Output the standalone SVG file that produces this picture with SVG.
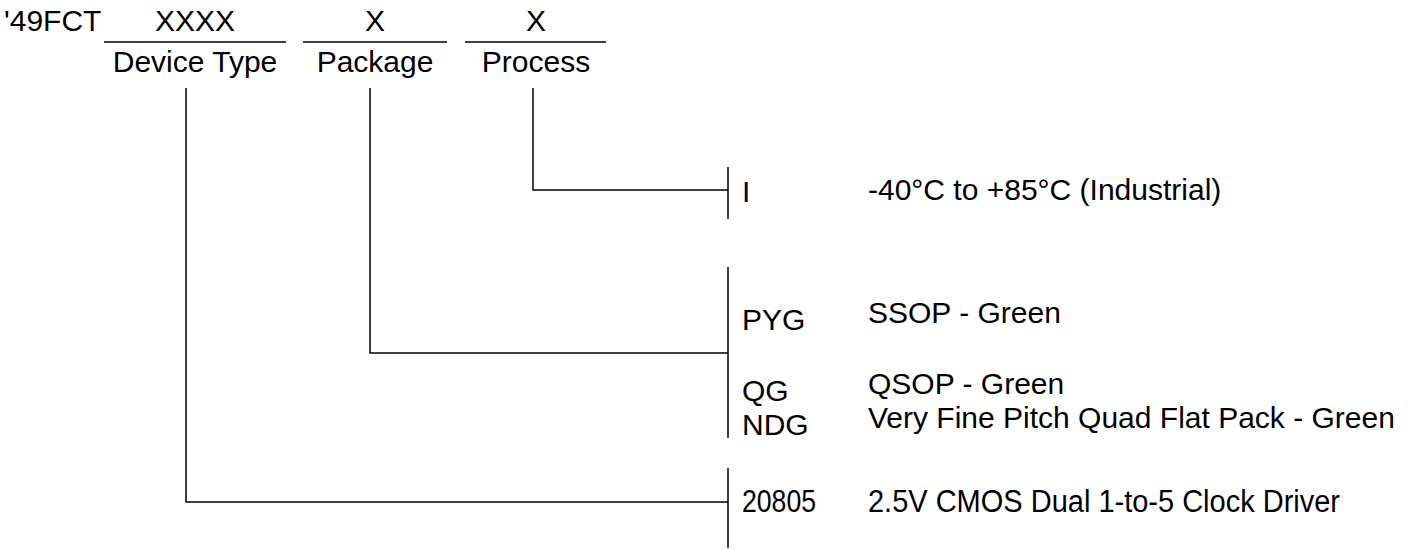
<svg xmlns="http://www.w3.org/2000/svg" width="1417" height="550" viewBox="0 0 1417 550">
<style>
text { font-family: "Liberation Sans", Arial, sans-serif; font-size: 30px; fill: #000; }
.c { text-anchor: middle; }
.big { font-size: 31px; }
line, polyline { stroke: #000; stroke-width: 1.5; fill: none; }
</style>
<rect width="1417" height="550" fill="#fff"/>
<g id="header">
<text x="4" y="31">'49FCT</text>
</g>
<g id="device-type">
<text class="c" x="195" y="31">XXXX</text>
<line x1="104" y1="42" x2="286" y2="42"/>
<text class="c" x="195" y="72">Device Type</text>
</g>
<g id="package">
<text class="c" x="375" y="31">X</text>
<line x1="303" y1="42" x2="447" y2="42"/>
<text class="c" x="375" y="72">Package</text>
</g>
<g id="process">
<text class="c" x="536" y="31">X</text>
<line x1="465" y1="42" x2="606" y2="42"/>
<text class="c" x="536" y="72">Process</text>
</g>
<g id="process-options">
<line x1="728" y1="167" x2="728" y2="219"/>
<text x="742" y="202">I</text>
<text x="868" y="200">-40°C to +85°C (Industrial)</text>
</g>
<g id="package-options">
<line x1="728" y1="267" x2="728" y2="438"/>
<text x="742" y="330">PYG</text>
<text x="868" y="323">SSOP - Green</text>
<text x="742" y="401">QG</text>
<text x="868" y="394">QSOP - Green</text>
<text x="742" y="435">NDG</text>
<text x="868" y="428">Very Fine Pitch Quad Flat Pack - Green</text>
</g>
<g id="device-options">
<line x1="728" y1="468" x2="728" y2="548"/>
<text class="big" x="742" y="512" textLength="74" lengthAdjust="spacingAndGlyphs">20805</text>
<text class="big" x="868" y="512" textLength="472" lengthAdjust="spacingAndGlyphs">2.5V CMOS Dual 1-to-5 Clock Driver</text>
</g>
<g id="connectors">
<polyline points="533,88 533,190 728,190"/>
<polyline points="370,88 370,353 728,353"/>
<polyline points="186,88 186,502 728,502"/>
</g>
</svg>
